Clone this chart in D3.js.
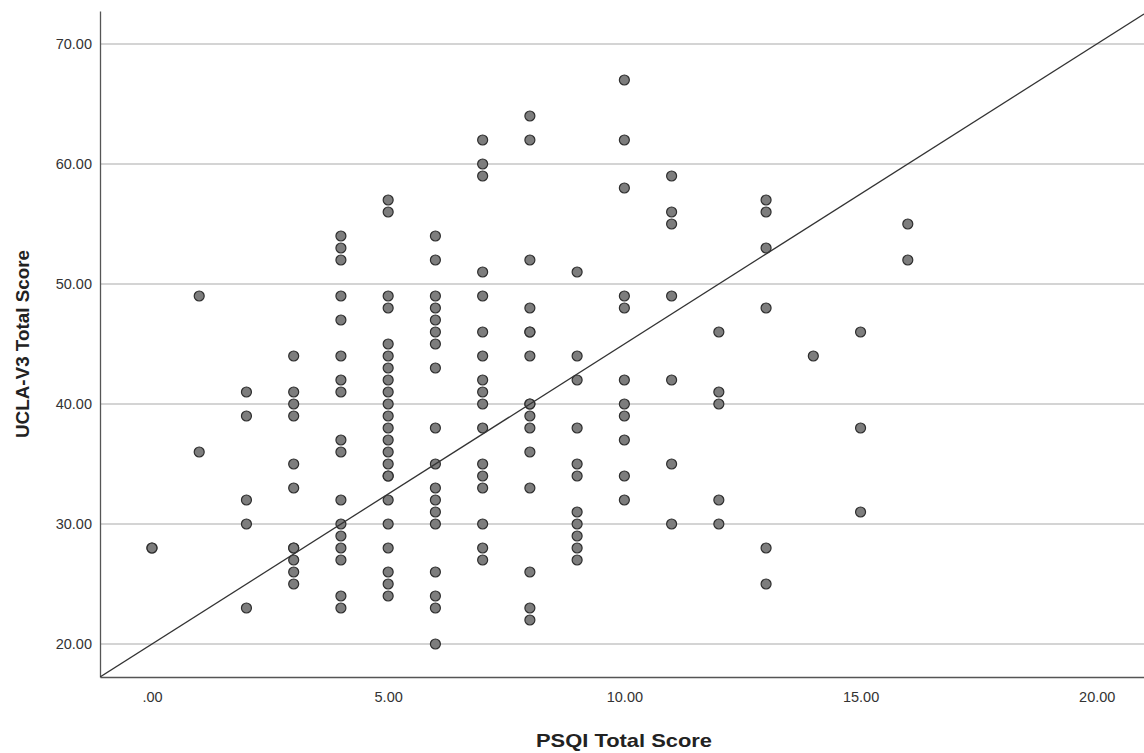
<!DOCTYPE html>
<html>
<head>
<meta charset="utf-8">
<script src="https://cdn.jsdelivr.net/npm/d3@7"></script>
<style>
  body { margin: 0; background: #fff; }
  svg { display: block; font-family: "Liberation Sans", Arial, sans-serif; }
</style>
</head>
<body>
<div class="canvas"></div>
<script>
// Data: UCLA scores grouped by PSQI score

const psqiScores = [0, 1, 2, 3, 4, 5, 6, 7, 8, 9, 10, 11, 12, 13, 14, 15, 16];
const uclaByPsqi = [
  [28, 28],
  [49, 36],
  [41, 39, 32, 30, 23],
  [44, 41, 40, 39, 35, 33, 28, 28, 27, 26, 25],
  [54, 53, 52, 49, 47, 44, 42, 41, 37, 36, 32, 30, 29, 28, 27, 24, 23],
  [57, 56, 49, 48, 45, 44, 43, 42, 41, 40, 39, 38, 37, 36, 35, 34, 34, 32, 30, 28, 26, 25, 24],
  [54, 52, 49, 48, 47, 46, 45, 43, 38, 35, 33, 32, 31, 30, 26, 24, 23, 20],
  [62, 60, 59, 51, 49, 46, 44, 42, 41, 40, 38, 35, 34, 33, 30, 28, 27],
  [64, 62, 52, 48, 46, 46, 44, 40, 40, 39, 38, 36, 33, 26, 23, 22],
  [51, 44, 42, 38, 35, 34, 31, 30, 29, 28, 27],
  [67, 62, 58, 49, 48, 42, 40, 39, 37, 34, 32],
  [59, 56, 55, 49, 42, 35, 30],
  [46, 41, 40, 32, 30],
  [57, 56, 53, 48, 28, 25],
  [44],
  [46, 38, 31],
  [55, 52]
];

const xTicks = [0, 5, 10, 15, 20];
const xTickLabels = [".00", "5.00", "10.00", "15.00", "20.00"];
const yTicks = [20, 30, 40, 50, 60, 70];
const yTickLabels = ["20.00", "30.00", "40.00", "50.00", "60.00", "70.00"];

// reference line drawn on the chart: ucla = 20 + 2.5 * psqi
const lineIntercept = 20;
const lineSlope = 2.5;

const points = [];
psqiScores.forEach((p, i) => {
  uclaByPsqi[i].forEach(u => points.push({psqi: p, ucla: u}));
});

// Set dimensions & margins
const W = 1144, H = 753;
const margin = {top: 11, right: 0, bottom: 76, left: 100};

const x = d3.scaleLinear()
    .domain([-1.1, 21.0])
    .range([margin.left, W - margin.right]);

const y = d3.scaleLinear()
    .domain([17.25, 72.75])
    .range([H - margin.bottom, margin.top]);

const svg = d3.select(".canvas")
    .append("svg")
    .attr("width", W)
    .attr("height", H);

svg.append("defs").append("clipPath")
    .attr("id", "plot-clip")
  .append("rect")
    .attr("x", margin.left)
    .attr("y", margin.top)
    .attr("width", W - margin.left - margin.right)
    .attr("height", H - margin.top - margin.bottom);

// horizontal gridlines
svg.append("g")
  .selectAll("line")
  .data(yTicks)
  .join("line")
    .attr("x1", margin.left)
    .attr("x2", W - margin.right)
    .attr("y1", d => y(d))
    .attr("y2", d => y(d))
    .attr("stroke", "#c6c6c6")
    .attr("stroke-width", 1.5);

// y-axis
const yAxis = svg.append("g")
    .attr("transform", `translate(${margin.left},0)`)
    .call(d3.axisLeft(y)
        .tickValues(yTicks)
        .tickFormat((d, i) => yTickLabels[i])
        .tickSize(0)
        .tickPadding(8));
yAxis.select(".domain").attr("stroke", "#555").attr("stroke-width", 1.3);
yAxis.selectAll("text")
    .attr("fill", "#333")
    .style("font-size", "14.5px")
    .style("font-family", "'Liberation Sans', Arial, sans-serif");

// x-axis
const xAxis = svg.append("g")
    .attr("transform", `translate(0,${H - margin.bottom})`)
    .call(d3.axisBottom(x)
        .tickValues(xTicks)
        .tickFormat((d, i) => xTickLabels[i])
        .tickSize(0)
        .tickPadding(15));
xAxis.select(".domain").attr("stroke", "#555").attr("stroke-width", 1.3);
xAxis.selectAll("text")
    .attr("fill", "#333")
    .style("font-size", "14.5px")
    .style("font-family", "'Liberation Sans', Arial, sans-serif");

// points
svg.append("g")
  .selectAll("circle")
  .data(points)
  .join("circle")
    .attr("cx", d => x(d.psqi))
    .attr("cy", d => y(d.ucla))
    .attr("r", 5)
    .attr("fill", "#7d7d7d")
    .attr("stroke", "#2e2e2e")
    .attr("stroke-width", 1.2);

// reference line
const xd = x.domain();
const refLine = d3.line()
    .x(d => x(d))
    .y(d => y(lineIntercept + lineSlope * d));

svg.append("path")
    .datum(xd)
    .attr("clip-path", "url(#plot-clip)")
    .attr("fill", "none")
    .attr("stroke", "#333")
    .attr("stroke-width", 1.3)
    .attr("d", refLine);

// axis titles
svg.append("text")
    .attr("x", 624)
    .attr("y", 747)
    .attr("text-anchor", "middle")
    .attr("textLength", 176)
    .attr("lengthAdjust", "spacingAndGlyphs")
    .style("font-size", "18.5px")
    .style("font-weight", "bold")
    .attr("fill", "#222")
    .text("PSQI Total Score");

svg.append("text")
    .attr("transform", `translate(29,${(y(17.25) + y(72.75)) / 2}) rotate(-90)`)
    .attr("text-anchor", "middle")
    .attr("textLength", 188)
    .attr("lengthAdjust", "spacingAndGlyphs")
    .style("font-size", "18.5px")
    .style("font-weight", "bold")
    .attr("fill", "#222")
    .text("UCLA-V3 Total Score");
</script>
</body>
</html>
